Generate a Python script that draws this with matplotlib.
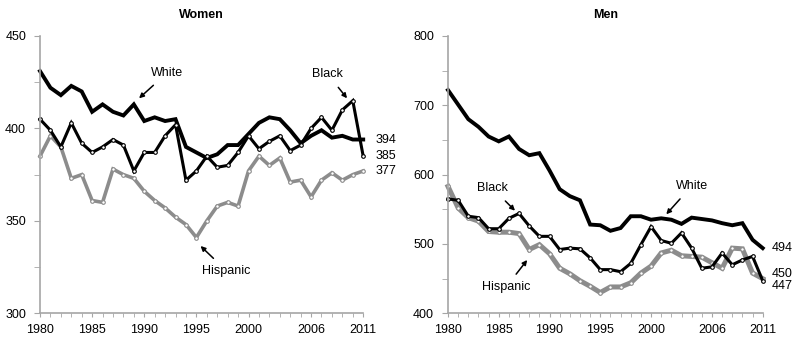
import matplotlib
matplotlib.use('Agg')
import matplotlib.pyplot as plt
import numpy as np
from matplotlib.ticker import MultipleLocator

plt.rcParams['font.family'] = ['Liberation Sans', 'DejaVu Sans']

years = np.arange(1980, 2012)
tick_years = [1980, 1985, 1990, 1995, 2000, 2006, 2011]

# Women
women_white = [431, 422, 418, 423, 420, 409, 413, 409, 407, 413, 404, 406, 404, 405,
               390, 387, 384, 386, 391, 391, 397, 403, 406, 405, 399, 392, 396, 399,
               395, 396, 394, 394]
women_black = [405, 399, 390, 403, 392, 387, 390, 394, 391, 377, 387, 387, 396, 402,
               372, 377, 385, 379, 380, 387, 396, 389, 393, 396, 388, 391, 400, 406,
               399, 410, 415, 385]
women_hisp = [385, 396, 390, 373, 375, 361, 360, 378, 375, 373, 366, 361, 357, 352,
              348, 341, 350, 358, 360, 358, 377, 385, 380, 384, 371, 372, 363, 372,
              376, 372, 375, 377]

# Men
men_white = [722, 701, 680, 669, 655, 648, 655, 637, 628, 631, 606, 579, 569, 563,
             528, 527, 519, 523, 540, 540, 535, 537, 535, 529, 538, 536, 534, 530,
             527, 530, 506, 494]
men_black = [565, 563, 540, 538, 522, 522, 537, 544, 526, 511, 511, 492, 494, 493,
             480, 463, 463, 460, 472, 499, 525, 505, 501, 516, 494, 465, 467, 487,
             470, 477, 482, 447]
men_hisp = [583, 552, 538, 533, 518, 517, 517, 515, 492, 499, 486, 465, 457, 447,
            439, 430, 438, 438, 444, 458, 468, 487, 491, 483, 482, 481, 473, 465,
            494, 493, 458, 450]

black = '#000000'
gray = '#8c8c8c'
axcol = '#a6a6a6'
fs = 9


def style_axis(ax, ylim, major, minor):
    ax.set_xlim(1980, 2011)
    ax.set_ylim(*ylim)
    for s in ['top', 'right']:
        ax.spines[s].set_visible(False)
    for s in ['left', 'bottom']:
        ax.spines[s].set_color(axcol)
        ax.spines[s].set_linewidth(1.2)
    ax.set_xticks(tick_years)
    ax.set_xticklabels([str(y) for y in tick_years])
    ax.xaxis.set_minor_locator(MultipleLocator(1))
    ax.yaxis.set_major_locator(MultipleLocator(major))
    ax.yaxis.set_minor_locator(MultipleLocator(minor))
    ax.tick_params(which='both', direction='out', color=axcol, labelsize=fs)
    ax.tick_params(axis='y', which='both', length=4, pad=6)
    ax.tick_params(axis='x', which='both', length=3, pad=5)


def draw_series(ax, y, color, lw, marker):
    if marker:
        ax.plot(years, y, color=color, lw=lw, marker='o', markersize=2.6,
                markerfacecolor='white', markeredgecolor=color, markeredgewidth=0.8,
                clip_on=False, solid_joinstyle='miter')
    else:
        ax.plot(years, y, color=color, lw=lw, clip_on=False, solid_joinstyle='miter')


def label(ax, text, xy, xytext):
    ax.annotate(text, xy=xy, xytext=xytext, fontsize=fs, ha='center', va='center',
                arrowprops=dict(arrowstyle='-|>', color=black, lw=1.1,
                                mutation_scale=7, shrinkA=4, shrinkB=0))


fig = plt.figure(figsize=(8, 3.46), dpi=100)
ax1 = fig.add_axes([0.05, 0.0945, 0.404, 0.8015])
ax2 = fig.add_axes([0.56, 0.0945, 0.3934, 0.8015])

# Women panel
draw_series(ax1, women_hisp, gray, 2.6, True)
draw_series(ax1, women_white, black, 2.8, False)
draw_series(ax1, women_black, black, 2.2, True)
style_axis(ax1, (300, 450), 50, 25)
ax1.set_title('Women', fontsize=fs, fontweight='bold', pad=13)
label(ax1, 'White', (1989.5, 416.3), (1992.2, 430.1))
label(ax1, 'Black', (2009.45, 416.3), (2007.6, 429.3))
label(ax1, 'Hispanic', (1995.4, 336.4), (1997.9, 322.9))
for v in [women_white[-1], women_black[-1], women_hisp[-1]]:
    ax1.text(2012.2, v, str(v), fontsize=fs, ha='left', va='center')

# Men panel
draw_series(ax2, men_hisp, gray, 3.6, True)
draw_series(ax2, men_white, black, 2.8, False)
draw_series(ax2, men_black, black, 2.2, True)
style_axis(ax2, (400, 800), 100, 50)
ax2.set_title('Men', fontsize=fs, fontweight='bold', pad=13)
label(ax2, 'Black', (1986.6, 548), (1984.4, 580.3))
label(ax2, 'White', (2001.5, 542.8), (2004.0, 583.6))
label(ax2, 'Hispanic', (1987.8, 476.9), (1985.7, 437.5))
ax2.text(2011.9, men_white[-1], str(men_white[-1]), fontsize=fs, ha='left', va='center')
ax2.text(2011.9, 457, str(men_hisp[-1]), fontsize=fs, ha='left', va='center')
ax2.text(2011.9, 439, str(men_black[-1]), fontsize=fs, ha='left', va='center')

fig.savefig('out.png', dpi=100)
